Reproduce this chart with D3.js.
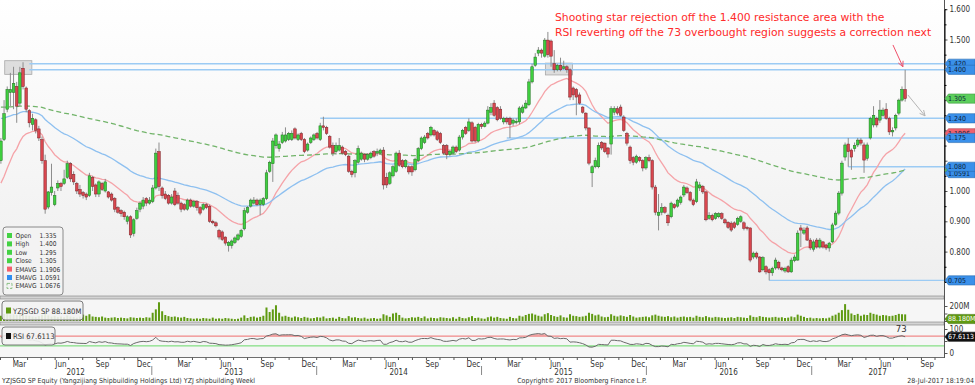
<!DOCTYPE html>
<html>
<head>
<meta charset="utf-8">
<script src="https://cdn.jsdelivr.net/npm/d3@7"></script>
<style>
  body { margin: 0; background: #ffffff; }
  text { font-family: "DejaVu Sans Condensed", "Liberation Sans Narrow", "DejaVu Sans", sans-serif; }
</style>
</head>
<body>
<div id="chart"></div>
<script>
// Weekly bars, first bar dated Fri 3-Feb-2012
var firstBar = new Date(2012, 1, 3);

var opens = [
  1.10, 1.17, 1.27, 1.325, 1.325, 1.345, 1.29, 1.405, 1.34, 1.265,
  1.22, 1.235, 1.205, 1.17, 1.10, 0.947, 0.995, 0.955, 1.01, 1.025,
  1.025, 1.045, 1.09, 1.055, 1.025, 1.005, 0.995, 0.99, 0.985, 1.045,
  1.02, 0.99, 1.025, 1.0, 0.997, 0.99, 0.975, 0.945, 0.935, 0.93,
  0.90, 0.915, 0.86, 0.91, 0.94, 0.95, 0.975, 0.96, 0.965, 1.01,
  1.13, 1.01, 0.99, 0.985, 0.96, 1.0, 0.985, 0.96, 0.955, 0.94,
  0.97, 0.95, 0.965, 0.945, 0.94, 0.955, 0.95, 0.90, 0.895, 0.87,
  0.865, 0.848, 0.82, 0.82, 0.83, 0.84, 0.85, 0.875, 0.93, 0.95,
  0.96, 0.97, 0.955, 0.955, 0.975, 1.065, 1.09, 1.15, 1.14, 1.16,
  1.165, 1.17, 1.17, 1.205, 1.17, 1.19, 1.17, 1.135, 1.16, 1.17,
  1.19, 1.17, 1.215, 1.21, 1.18, 1.15, 1.13, 1.135, 1.145, 1.13,
  1.115, 1.065, 1.06, 1.095, 1.105, 1.12, 1.105, 1.11, 1.13, 1.125,
  1.125, 1.135, 1.045, 1.025, 1.05, 1.065, 1.125, 1.10, 1.08, 1.08,
  1.08, 1.07, 1.10, 1.14, 1.16, 1.19, 1.185, 1.20, 1.195, 1.19,
  1.15, 1.15, 1.12, 1.125, 1.145, 1.135, 1.178, 1.21, 1.20, 1.225,
  1.21, 1.165, 1.22, 1.213, 1.224, 1.26, 1.29, 1.275, 1.27, 1.228,
  1.24, 1.24, 1.224, 1.226, 1.228, 1.26, 1.274, 1.285, 1.36, 1.415,
  1.455, 1.465, 1.445, 1.498, 1.495, 1.42, 1.40, 1.415, 1.405, 1.41,
  1.40, 1.34, 1.335, 1.317, 1.277, 1.257, 1.208, 1.06, 1.08, 1.08,
  1.16, 1.158, 1.142, 1.155, 1.26, 1.272, 1.277, 1.244, 1.19, 1.145,
  1.11, 1.095, 1.11, 1.10, 1.076, 1.11, 1.10, 1.013, 0.92, 0.93,
  0.945, 0.92, 0.915, 0.955, 0.95, 0.962, 0.987, 1.01, 0.995, 0.97,
  0.965, 1.01, 1.015, 0.997, 0.91, 0.92, 0.91, 0.915, 0.925, 0.905,
  0.897, 0.894, 0.895, 0.89, 0.90, 0.895, 0.88, 0.878, 0.782, 0.795,
  0.782, 0.74, 0.75, 0.74, 0.73, 0.746, 0.765, 0.746, 0.736, 0.75,
  0.733, 0.77, 0.772, 0.878, 0.861, 0.878, 0.838, 0.808, 0.838, 0.815,
  0.832, 0.822, 0.812, 0.832, 0.89, 0.927, 0.993, 1.112, 1.155, 1.135,
  1.14, 1.152, 1.168, 1.152, 1.108, 1.175, 1.218, 1.24, 1.234, 1.25,
  1.27, 1.24, 1.195, 1.208, 1.257, 1.30, 1.335
];

var highs = [
  1.175, 1.30, 1.345, 1.39, 1.41, 1.36, 1.41, 1.425, 1.345, 1.27,
  1.255, 1.24, 1.215, 1.18, 1.12, 1.00, 1.09, 1.0, 1.035, 1.03,
  1.07, 1.10, 1.095, 1.065, 1.03, 1.02, 1.00, 0.995, 1.06, 1.05,
  1.025, 1.035, 1.03, 1.04, 1.0, 0.995, 0.98, 0.95, 0.94, 0.935,
  0.92, 0.92, 0.91, 0.945, 0.965, 0.98, 0.98, 0.98, 1.02, 1.14,
  1.16, 1.015, 1.0, 0.99, 0.99, 1.01, 0.995, 0.965, 0.96, 0.975,
  0.975, 0.97, 0.97, 0.95, 0.96, 0.96, 0.955, 0.905, 0.90, 0.875,
  0.87, 0.85, 0.835, 0.84, 0.85, 0.86, 0.875, 0.945, 0.95, 0.975,
  0.98, 0.975, 0.975, 0.98, 1.07, 1.10, 1.175, 1.19, 1.165, 1.195,
  1.21, 1.195, 1.20, 1.21, 1.19, 1.195, 1.175, 1.16, 1.18, 1.19,
  1.195, 1.225, 1.245, 1.215, 1.185, 1.16, 1.16, 1.175, 1.15, 1.135,
  1.12, 1.07, 1.105, 1.15, 1.13, 1.125, 1.125, 1.13, 1.135, 1.14,
  1.14, 1.145, 1.06, 1.065, 1.085, 1.13, 1.135, 1.105, 1.105, 1.085,
  1.085, 1.11, 1.145, 1.18, 1.185, 1.195, 1.215, 1.205, 1.20, 1.195,
  1.155, 1.155, 1.135, 1.15, 1.15, 1.185, 1.205, 1.215, 1.24, 1.23,
  1.215, 1.225, 1.225, 1.23, 1.28, 1.29, 1.30, 1.28, 1.28, 1.245,
  1.245, 1.245, 1.24, 1.24, 1.28, 1.285, 1.30, 1.37, 1.42, 1.455,
  1.475, 1.47, 1.505, 1.525, 1.50, 1.465, 1.42, 1.44, 1.43, 1.415,
  1.405, 1.345, 1.34, 1.325, 1.28, 1.26, 1.21, 1.085, 1.11, 1.16,
  1.165, 1.16, 1.145, 1.28, 1.28, 1.28, 1.285, 1.25, 1.195, 1.15,
  1.115, 1.12, 1.115, 1.105, 1.115, 1.12, 1.105, 1.02, 0.99, 0.96,
  0.95, 0.925, 0.965, 0.96, 0.975, 0.985, 1.02, 1.015, 1.0, 0.975,
  1.04, 1.03, 1.02, 1.0, 0.93, 0.925, 0.93, 0.93, 0.93, 0.91,
  0.90, 0.90, 0.90, 0.915, 0.92, 0.90, 0.885, 0.88, 0.80, 0.80,
  0.785, 0.785, 0.755, 0.745, 0.75, 0.78, 0.77, 0.75, 0.75, 0.755,
  0.78, 0.79, 0.87, 0.888, 0.88, 0.885, 0.845, 0.84, 0.845, 0.845,
  0.835, 0.826, 0.832, 0.895, 0.935, 1.0, 1.10, 1.16, 1.175, 1.14,
  1.16, 1.175, 1.175, 1.16, 1.16, 1.245, 1.28, 1.245, 1.30, 1.275,
  1.29, 1.245, 1.21, 1.255, 1.305, 1.345, 1.40
];

var lows = [
  1.09, 1.165, 1.26, 1.28, 1.27, 1.225, 1.28, 1.335, 1.26, 1.21,
  1.20, 1.19, 1.165, 1.09, 0.925, 0.94, 0.985, 0.95, 1.0, 1.0,
  1.02, 1.04, 1.03, 1.02, 0.99, 0.98, 0.975, 0.97, 0.98, 1.0,
  0.98, 0.98, 1.0, 0.995, 0.975, 0.965, 0.93, 0.925, 0.915, 0.905,
  0.89, 0.845, 0.85, 0.905, 0.93, 0.94, 0.95, 0.955, 0.96, 1.005,
  1.0, 0.975, 0.97, 0.955, 0.955, 0.95, 0.955, 0.93, 0.935, 0.935,
  0.945, 0.945, 0.935, 0.92, 0.935, 0.94, 0.895, 0.89, 0.88, 0.84,
  0.835, 0.82, 0.80, 0.81, 0.825, 0.835, 0.845, 0.87, 0.925, 0.945,
  0.955, 0.95, 0.92, 0.95, 0.97, 1.06, 1.03, 1.14, 1.13, 1.155,
  1.16, 1.165, 1.165, 1.17, 1.165, 1.165, 1.125, 1.13, 1.155, 1.165,
  1.17, 1.165, 1.20, 1.185, 1.14, 1.115, 1.12, 1.13, 1.12, 1.115,
  1.06, 1.045, 1.045, 1.09, 1.10, 1.095, 1.10, 1.105, 1.11, 1.115,
  1.12, 1.005, 1.01, 1.02, 1.045, 1.06, 1.08, 1.075, 1.075, 1.055,
  1.05, 1.065, 1.095, 1.135, 1.155, 1.17, 1.18, 1.18, 1.165, 1.155,
  1.12, 1.105, 1.115, 1.12, 1.125, 1.13, 1.17, 1.185, 1.195, 1.16,
  1.16, 1.16, 1.205, 1.21, 1.22, 1.25, 1.245, 1.23, 1.235, 1.22,
  1.22, 1.175, 1.215, 1.22, 1.22, 1.255, 1.27, 1.28, 1.355, 1.41,
  1.445, 1.44, 1.44, 1.44, 1.41, 1.39, 1.395, 1.395, 1.40, 1.39,
  1.30, 1.30, 1.25, 1.285, 1.255, 1.20, 1.085, 1.013, 1.075, 1.075,
  1.135, 1.125, 1.11, 1.12, 1.25, 1.25, 1.245, 1.195, 1.15, 1.09,
  1.085, 1.09, 1.095, 1.065, 1.07, 1.095, 1.005, 0.92, 0.87, 0.92,
  0.925, 0.885, 0.91, 0.94, 0.945, 0.955, 0.98, 0.99, 0.965, 0.95,
  0.96, 1.0, 0.99, 0.90, 0.905, 0.90, 0.905, 0.91, 0.905, 0.89,
  0.875, 0.865, 0.875, 0.885, 0.895, 0.87, 0.87, 0.765, 0.775, 0.775,
  0.73, 0.735, 0.725, 0.705, 0.72, 0.74, 0.74, 0.735, 0.73, 0.73,
  0.73, 0.765, 0.77, 0.815, 0.855, 0.835, 0.805, 0.80, 0.81, 0.81,
  0.81, 0.805, 0.80, 0.828, 0.885, 0.92, 0.985, 1.10, 1.08, 1.07,
  1.13, 1.145, 1.15, 1.06, 1.10, 1.17, 1.21, 1.21, 1.225, 1.245,
  1.235, 1.185, 1.18, 1.20, 1.25, 1.295, 1.295
];

var closes = [
  1.165, 1.255, 1.335, 1.335, 1.355, 1.28, 1.39, 1.345, 1.27, 1.225,
  1.24, 1.20, 1.175, 1.10, 0.94, 0.997, 1.013, 0.985, 1.025, 1.015,
  1.04, 1.09, 1.04, 1.03, 1.0, 0.99, 0.985, 0.98, 1.05, 1.015,
  0.99, 1.03, 1.005, 1.03, 0.98, 0.97, 0.94, 0.93, 0.925, 0.915,
  0.915, 0.855, 0.905, 0.935, 0.96, 0.97, 0.96, 0.97, 1.01, 1.125,
  1.015, 0.985, 0.975, 0.96, 0.98, 0.955, 0.96, 0.94, 0.94, 0.97,
  0.95, 0.965, 0.945, 0.927, 0.955, 0.945, 0.90, 0.895, 0.885, 0.848,
  0.84, 0.828, 0.83, 0.835, 0.845, 0.855, 0.87, 0.935, 0.945, 0.97,
  0.97, 0.955, 0.97, 0.975, 1.06, 1.095, 1.165, 1.185, 1.155, 1.185,
  1.185, 1.19, 1.19, 1.175, 1.185, 1.17, 1.13, 1.155, 1.175, 1.185,
  1.175, 1.215, 1.21, 1.19, 1.145, 1.125, 1.15, 1.15, 1.125, 1.12,
  1.065, 1.055, 1.10, 1.14, 1.125, 1.105, 1.12, 1.125, 1.115, 1.13,
  1.135, 1.02, 1.02, 1.06, 1.08, 1.125, 1.085, 1.08, 1.10, 1.063,
  1.063, 1.105, 1.14, 1.175, 1.178, 1.175, 1.21, 1.185, 1.17, 1.16,
  1.125, 1.12, 1.13, 1.145, 1.13, 1.178, 1.20, 1.19, 1.228, 1.165,
  1.165, 1.22, 1.213, 1.224, 1.267, 1.275, 1.25, 1.235, 1.24, 1.24,
  1.228, 1.22, 1.234, 1.23, 1.274, 1.277, 1.29, 1.36, 1.41, 1.442,
  1.465, 1.455, 1.498, 1.45, 1.445, 1.40, 1.415, 1.40, 1.41, 1.40,
  1.31, 1.317, 1.31, 1.29, 1.26, 1.208, 1.092, 1.08, 1.10, 1.15,
  1.142, 1.13, 1.122, 1.272, 1.272, 1.257, 1.25, 1.20, 1.158, 1.10,
  1.095, 1.115, 1.10, 1.076, 1.11, 1.10, 1.013, 0.93, 0.93, 0.945,
  0.93, 0.895, 0.96, 0.945, 0.97, 0.98, 1.013, 0.995, 0.97, 0.955,
  1.03, 1.02, 0.997, 0.905, 0.92, 0.905, 0.925, 0.925, 0.91, 0.895,
  0.88, 0.871, 0.88, 0.91, 0.915, 0.877, 0.876, 0.772, 0.795, 0.782,
  0.733, 0.78, 0.733, 0.73, 0.745, 0.772, 0.746, 0.74, 0.745, 0.733,
  0.772, 0.782, 0.861, 0.871, 0.871, 0.838, 0.812, 0.832, 0.815, 0.838,
  0.815, 0.812, 0.828, 0.888, 0.927, 0.993, 1.092, 1.152, 1.13, 1.112,
  1.15, 1.168, 1.158, 1.102, 1.152, 1.24, 1.25, 1.218, 1.267, 1.267,
  1.24, 1.195, 1.20, 1.25, 1.30, 1.335, 1.305
];

// Weekly volume, millions of shares
var volumes = [
  70, 95, 110, 85, 90, 80, 100, 95, 75, 70,
  60, 55, 65, 80, 110, 75, 60, 70, 55, 60,
  50, 75, 60, 55, 45, 60, 85, 70, 90, 60,
  55, 50, 60, 45, 40, 45, 50, 40, 45, 40,
  35, 50, 45, 40, 45, 40, 50, 45, 110, 155,
  250, 130, 80, 65, 55, 60, 50, 45, 55, 40,
  35, 30, 35, 30, 40, 35, 30, 45, 30, 35,
  30, 40, 35, 30, 25, 30, 45, 75, 40, 55,
  60, 45, 55, 70, 180, 120, 155, 210, 110, 60,
  70, 55, 45, 60, 50, 40, 55, 45, 35, 40,
  50, 45, 60, 35, 40, 45, 30, 55, 40, 35,
  65, 45, 50, 40, 35, 45, 30, 35, 40, 30,
  35, 90, 75, 55, 100, 110, 80, 45, 35, 40,
  50, 45, 55, 40, 60, 35, 45, 40, 35, 50,
  45, 40, 35, 50, 30, 55, 40, 35, 50, 65,
  40, 45, 35, 30, 50, 60, 45, 55, 40, 35,
  30, 55, 40, 35, 70, 60, 80, 95, 100, 85,
  70, 60, 90, 105, 80, 65, 55, 75, 50, 45,
  90, 70, 65, 55, 60, 70, 110, 95, 75, 85,
  60, 50, 55, 90, 70, 60, 75, 65, 55, 80,
  60, 45, 50, 55, 60, 50, 75, 85, 70, 60,
  55, 65, 50, 60, 45, 55, 60, 50, 55, 45,
  70, 55, 50, 65, 50, 45, 55, 50, 45, 40,
  45, 50, 40, 55, 50, 45, 40, 75, 55, 50,
  65, 55, 50, 45, 50, 55, 45, 50, 40, 45,
  60, 50, 85, 70, 55, 40, 45, 35, 40, 35,
  40, 35, 45, 70, 85, 110, 145, 225, 150, 100,
  80, 95, 70, 85, 80, 110, 95, 85, 70, 80,
  75, 65, 70, 80, 95, 90, 88.18
];

// Moving averages: red 20w, blue 50w, green dashed 200w, seeded from the left edge of the picture
var emaPeriods = [20, 50, 200];
var emaSeeds = [1.026, 1.24, 1.277];
var emaColors = ["#f5a3a8", "#8ec0f0", "#72b46a"];
var rsiSeed = [0.016, 0.009];

// Horizontal support / resistance lines (level, index of bar where it starts)
var levels = [1.420, 1.400, 1.240, 1.175, 1.080, 0.705];
var levelStart = [9, 9, 101, 160, 268, 243];

// Shaded boxes around the two tops (first bar, last bar, low, high)
var boxes = [[2, 9, 1.385, 1.43], [173, 180, 1.383, 1.422]];

var legendNames = ["Open", "High", "Low", "Close", "EMAVG", "EMAVG", "EMAVG"];
var legendValues = ["1.335", "1.400", "1.295", "1.305", "1.1906", "1.0591", "1.0676"];
var legendColors = ["#44d244", "#44d244", "#44d244", "#44d244", "#f2606c", "#2f8df0", "dash"];

// Right axis tags: value, fill
var tagValues = [1.1906, 1.175, 1.0676, 1.0591, 1.080, 1.420, 1.400, 1.305, 1.240, 0.705];
var tagLabels = ["1.1906", "1.175", "1.0676", "1.0591", "1.080", "1.420", "1.400", "1.305", "1.240", "0.705"];
var tagFills = ["#f0606e", "#3a90ea", "#5ccf5c", "#3a90ea", "#3a90ea", "#3a90ea", "#3a90ea", "#5ccf5c", "#3a90ea", "#3a90ea"];

var noteLines = [
  "Shooting star rejection off the 1.400 resistance area with the",
  "RSI reverting off the 73 overbought region suggests a correction next"
];
var monthNames = ["Mar", "Jun", "Sep", "Dec"];

// Chart area
var svgWidth = 975;
var svgHeight = 385;
var plotRight = 944;

var svg = d3.select("#chart")
  .append("svg")
  .attr("width", svgWidth)
  .attr("height", svgHeight);

var defs = svg.append("defs");
var grad = defs.append("linearGradient")
  .attr("id", "bg")
  .attr("x1", 0).attr("y1", 0).attr("x2", 0).attr("y2", 1);
grad.append("stop").attr("offset", "0%").attr("stop-color", "#ffffff");
grad.append("stop").attr("offset", "100%").attr("stop-color", "#eeeeee");

defs.append("clipPath").attr("id", "plotClip")
  .append("rect").attr("x", 0).attr("y", 0).attr("width", plotRight).attr("height", 297);

// Step 1: scales
var dates = closes.map(function(d, i) { return d3.timeDay.offset(firstBar, 7 * i); });

var xScale = d3.scaleTime()
  .domain([new Date(2012, 1, 1), new Date(2017, 9, 22)])
  .range([0, plotRight]);

var yPrice = d3.scaleLinear().domain([0.7, 1.6]).range([281.9, 9.2]);
var yVol = d3.scaleLinear().domain([0, 200]).range([321, 306]);
var yRsi = d3.scaleLinear().domain([0, 100]).range([353, 329]);

// Step 2: panel backgrounds
svg.append("rect").attr("x", 0).attr("y", 0).attr("width", plotRight).attr("height", 297).attr("fill", "url(#bg)");
svg.append("rect").attr("x", 0).attr("y", 299).attr("width", plotRight).attr("height", 23).attr("fill", "#f6f6f6");
svg.append("rect").attr("x", 0).attr("y", 325).attr("width", plotRight).attr("height", 32).attr("fill", "#f6f6f6");

[297.5, 323.5].forEach(function(y) {
  svg.append("rect").attr("x", 0).attr("y", y - 1.5).attr("width", plotRight).attr("height", 3)
    .attr("fill", "#d4d4d4").attr("stroke", "#7d7d7d").attr("stroke-width", 0.6);
});
svg.append("line").attr("x1", 0).attr("x2", plotRight).attr("y1", 357.5).attr("y2", 357.5)
  .attr("stroke", "#6e6e6e").attr("stroke-width", 1);

var main = svg.append("g").attr("clip-path", "url(#plotClip)");

// Step 3: shaded boxes and level lines
main.selectAll(".box")
  .data(boxes)
  .enter()
  .append("rect")
  .attr("x", function(d) { return xScale(dates[d[0]]) - 2.5; })
  .attr("width", function(d) { return xScale(dates[d[1]]) - xScale(dates[d[0]]) + 5; })
  .attr("y", function(d) { return yPrice(d[3]); })
  .attr("height", function(d) { return yPrice(d[2]) - yPrice(d[3]); })
  .attr("fill", "#c9c9c9")
  .attr("fill-opacity", 0.6)
  .attr("stroke", "#a8a8a8")
  .attr("stroke-width", 0.8);

main.selectAll(".level")
  .data(levels)
  .enter()
  .append("line")
  .attr("x1", function(d, i) { return xScale(dates[levelStart[i]]); })
  .attr("x2", plotRight)
  .attr("y1", function(d) { return yPrice(d); })
  .attr("y2", function(d) { return yPrice(d); })
  .attr("stroke", "#9ccbf4")
  .attr("stroke-width", 1.4);

// Step 4: moving averages
emaPeriods.forEach(function(period, k) {
  var alpha = 2 / (period + 1);
  var e = emaSeeds[k];
  var series = closes.map(function(c, i) {
    if (i > 0) { e = e + alpha * (c - e); }
    return e;
  });
  main.append("path")
    .datum(series)
    .attr("fill", "none")
    .attr("stroke", emaColors[k])
    .attr("stroke-width", 1.3)
    .attr("stroke-dasharray", k === 2 ? "5,3" : null)
    .attr("d", d3.line()
      .x(function(d, i) { return xScale(dates[i]); })
      .y(function(d) { return yPrice(d); }));
});

// Step 5: candles
var candles = main.selectAll(".candle")
  .data(closes)
  .enter()
  .append("g");

candles.append("line")
  .attr("x1", function(d, i) { return xScale(dates[i]); })
  .attr("x2", function(d, i) { return xScale(dates[i]); })
  .attr("y1", function(d, i) { return yPrice(highs[i]); })
  .attr("y2", function(d, i) { return yPrice(lows[i]); })
  .attr("stroke", "#8c8c8c")
  .attr("stroke-width", 1);

candles.append("rect")
  .attr("x", function(d, i) { return xScale(dates[i]) - 1.3; })
  .attr("width", 2.6)
  .attr("y", function(d, i) { return yPrice(Math.max(opens[i], d)); })
  .attr("height", function(d, i) { return Math.max(1, Math.abs(yPrice(opens[i]) - yPrice(d))); })
  .attr("fill", function(d, i) { return d >= opens[i] ? "#3fcf3f" : "#d9474f"; })
  .attr("stroke", function(d, i) { return d >= opens[i] ? "#1e6e1e" : "#7a2025"; })
  .attr("stroke-width", 0.5);

// Step 6: annotation arrows and text
function arrow(x1, y1, x2, y2, color) {
  var a = Math.atan2(y2 - y1, x2 - x1);
  var h = 6;
  svg.append("path")
    .attr("d", "M" + x1 + "," + y1 + "L" + x2 + "," + y2 +
      "M" + (x2 - h * Math.cos(a - 0.45)) + "," + (y2 - h * Math.sin(a - 0.45)) +
      "L" + x2 + "," + y2 +
      "L" + (x2 - h * Math.cos(a + 0.45)) + "," + (y2 - h * Math.sin(a + 0.45)))
    .attr("fill", "none")
    .attr("stroke", color)
    .attr("stroke-width", 1);
}
arrow(xScale(d3.timeDay.offset(firstBar, 7 * 282.2)), yPrice(1.482),
      xScale(d3.timeDay.offset(firstBar, 7 * 285.4)), yPrice(1.41), "#f0506a");
arrow(xScale(d3.timeDay.offset(firstBar, 7 * 286.9)), yPrice(1.317),
      xScale(d3.timeDay.offset(firstBar, 7 * 292.3)), yPrice(1.248), "#b4b4b4");

svg.selectAll(".note")
  .data(noteLines)
  .enter()
  .append("text")
  .attr("x", 555)
  .attr("y", function(d, i) { return 20.5 + i * 15.5; })
  .attr("fill", "#ff2a2a")
  .style("font-family", "'DejaVu Sans', sans-serif")
  .style("font-size", "10.8px")
  .text(function(d) { return d; });

// Step 7: volume panel
svg.append("g")
  .selectAll("rect")
  .data(volumes)
  .enter()
  .append("rect")
  .attr("x", function(d, i) { return xScale(dates[i]) - 1; })
  .attr("width", 2)
  .attr("y", function(d) { return yVol(d); })
  .attr("height", function(d) { return yVol(0) - yVol(d); })
  .attr("fill", "#5f9a12");

// Step 8: RSI panel
var rsi = [];
var avgGain = rsiSeed[0];
var avgLoss = rsiSeed[1];
closes.forEach(function(c, i) {
  if (i > 0) {
    var ch = c - closes[i - 1];
    avgGain = (avgGain * 13 + Math.max(ch, 0)) / 14;
    avgLoss = (avgLoss * 13 + Math.max(-ch, 0)) / 14;
  }
  rsi.push(100 - 100 / (1 + avgGain / avgLoss));
});

defs.append("clipPath").attr("id", "rsiHigh")
  .append("rect").attr("x", 0).attr("y", 325).attr("width", plotRight).attr("height", yRsi(70) - 325);
defs.append("clipPath").attr("id", "rsiLow")
  .append("rect").attr("x", 0).attr("y", yRsi(30)).attr("width", plotRight).attr("height", 357 - yRsi(30));

var rsiX = function(d, i) { return xScale(dates[i]); };
svg.append("path").datum(rsi).attr("clip-path", "url(#rsiHigh)")
  .attr("fill", "#f08080").attr("fill-opacity", 0.55)
  .attr("d", d3.area().x(rsiX).y0(yRsi(70)).y1(function(d) { return yRsi(d); }));
svg.append("path").datum(rsi).attr("clip-path", "url(#rsiLow)")
  .attr("fill", "#7fd67f").attr("fill-opacity", 0.6)
  .attr("d", d3.area().x(rsiX).y0(yRsi(30)).y1(function(d) { return yRsi(d); }));

svg.append("line").attr("x1", 0).attr("x2", plotRight).attr("y1", yRsi(70)).attr("y2", yRsi(70))
  .attr("stroke", "#f08a8a").attr("stroke-width", 1.2);
svg.append("line").attr("x1", 0).attr("x2", plotRight).attr("y1", yRsi(30)).attr("y2", yRsi(30))
  .attr("stroke", "#86df86").attr("stroke-width", 1.2);

svg.append("path").datum(rsi)
  .attr("fill", "none")
  .attr("stroke", "#6b6b6b")
  .attr("stroke-width", 1)
  .attr("d", d3.line().x(rsiX).y(function(d) { return yRsi(d); }));

svg.append("text")
  .attr("x", xScale(dates[dates.length - 1]) - 4)
  .attr("y", yRsi(73) - 3)
  .attr("text-anchor", "middle")
  .attr("fill", "#333")
  .style("font-size", "9.5px")
  .text("73");

// Step 9: right axes
svg.append("line").attr("x1", plotRight + 0.5).attr("x2", plotRight + 0.5).attr("y1", 0).attr("y2", 358)
  .attr("stroke", "#555").attr("stroke-width", 1);

// price labels that sit under a value tag are hidden, as on the terminal
var shownPriceTicks = d3.range(0.7, 1.65, 0.1).filter(function(t) {
  return tagValues.every(function(v) { return Math.abs(yPrice(v) - yPrice(t)) > 8; });
});
var priceAxis = svg.append("g")
  .attr("transform", "translate(" + (plotRight + 0.5) + ",0)")
  .call(d3.axisRight(yPrice).tickValues(d3.range(0.7, 1.65, 0.1)).tickFormat(function(t) {
    return shownPriceTicks.indexOf(t) >= 0 ? d3.format(".3f")(t) : "";
  }).tickSize(3).tickPadding(2));
svg.append("g")
  .attr("transform", "translate(" + (plotRight + 0.5) + ",0)")
  .call(d3.axisRight(yPrice).tickValues(d3.range(0.75, 1.6, 0.1)).tickFormat("").tickSize(2));

var volAxis = svg.append("g")
  .attr("transform", "translate(" + (plotRight + 0.5) + ",0)")
  .call(d3.axisRight(yVol).tickValues([0, 100, 200]).tickFormat(function(d) { return d === 200 ? "200M" : ""; }).tickSize(3).tickPadding(2));

var rsiAxis = svg.append("g")
  .attr("transform", "translate(" + (plotRight + 0.5) + ",0)")
  .call(d3.axisRight(yRsi).tickValues([0, 50, 100]).tickFormat(function(d) { return d === 50 ? "" : d; }).tickSize(3).tickPadding(2));

[priceAxis, volAxis, rsiAxis].forEach(function(g) {
  g.select(".domain").remove();
  g.selectAll("line").attr("stroke", "#555");
  g.selectAll("text").attr("fill", "#333").style("font-size", "8px");
});

function tag(y, label, fill, textColor) {
  var g = svg.append("g");
  g.append("path")
    .attr("d", "M" + (plotRight + 1) + "," + y + "L" + (plotRight + 4.5) + "," + (y - 4.6) +
      "L975," + (y - 4.6) + "L975," + (y + 4.6) + "L" + (plotRight + 4.5) + "," + (y + 4.6) + "Z")
    .attr("fill", fill)
    .attr("stroke", d3.color(fill).darker(0.8))
    .attr("stroke-width", 0.6);
  g.append("text")
    .attr("x", plotRight + 4)
    .attr("y", y)
    .attr("dy", "0.35em")
    .attr("fill", textColor)
    .style("font-size", "7px")
    .text(label);
}

tagValues.forEach(function(v, i) {
  tag(yPrice(v), tagLabels[i], tagFills[i], "#0b1e3a");
});
tag(yVol(0) - 2, "88.180M", "#5f9a12", "#ffffff");
tag(yRsi(67.6113), "67.6113", "#111111", "#ffffff");

// Step 10: legends
var legend = svg.append("g").attr("transform", "translate(3,227)");
legend.append("rect")
  .attr("width", 60).attr("height", 68).attr("rx", 3)
  .attr("fill", "#f3f3f3").attr("fill-opacity", 0.92)
  .attr("stroke", "#8a8a8a").attr("stroke-width", 1);

var rows = legend.selectAll(".row")
  .data(legendNames)
  .enter()
  .append("g")
  .attr("transform", function(d, i) { return "translate(4," + (6 + i * 8.4) + ")"; });

rows.append("rect")
  .attr("width", 5).attr("height", 5)
  .attr("fill", function(d, i) { return legendColors[i] === "dash" ? "none" : legendColors[i]; })
  .attr("stroke", function(d, i) { return legendColors[i] === "dash" ? "#72b46a" : "none"; })
  .attr("stroke-dasharray", function(d, i) { return legendColors[i] === "dash" ? "3,1.5" : null; })
  .attr("stroke-width", 0.8);
rows.append("text")
  .attr("x", 8.5).attr("y", 5)
  .attr("fill", "#333")
  .style("font-size", "6.6px")
  .text(function(d) { return d; });
rows.append("text")
  .attr("x", 32.5).attr("y", 5)
  .attr("fill", "#333")
  .style("font-size", "6.6px")
  .text(function(d, i) { return legendValues[i]; });

function smallLegend(x, y, w, h, fill, label) {
  var g = svg.append("g").attr("transform", "translate(" + x + "," + y + ")");
  g.append("rect").attr("width", w).attr("height", h).attr("rx", 3)
    .attr("fill", "#f3f3f3").attr("fill-opacity", 0.9)
    .attr("stroke", "#7a7a7a").attr("stroke-width", 1);
  g.append("rect").attr("x", 4).attr("y", h / 2 - 3).attr("width", 5).attr("height", 6).attr("fill", fill);
  g.append("text").attr("x", 11).attr("y", h / 2 + 3).attr("fill", "#333").style("font-size", "7.6px").text(label);
}
smallLegend(2, 301, 81, 19, "#5f9a12", "YZJSGD SP  88.180M");
smallLegend(2, 327, 53, 18, "#111111", "RSI 67.6113");

// Step 11: time axis
var months = d3.timeMonth.range(new Date(2012, 1, 1), new Date(2017, 9, 22));
svg.append("g")
  .selectAll("line")
  .data(months)
  .enter()
  .append("line")
  .attr("x1", function(d) { return xScale(d) + 0.5; })
  .attr("x2", function(d) { return xScale(d) + 0.5; })
  .attr("y1", 357.5)
  .attr("y2", 360)
  .attr("stroke", "#555");

var quarterMonths = months.filter(function(d) { return d.getMonth() % 3 === 2; });
svg.append("g")
  .selectAll("text")
  .data(quarterMonths)
  .enter()
  .append("text")
  .attr("x", function(d) { return xScale(d3.timeDay.offset(d, 14)); })
  .attr("y", 366.5)
  .attr("text-anchor", "middle")
  .attr("fill", "#333")
  .style("font-size", "8px")
  .text(function(d) { return monthNames[(d.getMonth() - 2) / 3]; });

var years = d3.range(2012, 2018);
svg.append("g")
  .selectAll("text")
  .data(years)
  .enter()
  .append("text")
  .attr("x", function(d) {
    var a = Math.max(0, xScale(new Date(d, 0, 1)));
    var b = Math.min(plotRight, xScale(new Date(d + 1, 0, 1)));
    return (a + b) / 2;
  })
  .attr("y", 374.5)
  .attr("text-anchor", "middle")
  .attr("fill", "#333")
  .style("font-size", "8px")
  .text(function(d) { return d; });

svg.append("g")
  .selectAll("line")
  .data(years.slice(1))
  .enter()
  .append("line")
  .attr("x1", function(d) { return xScale(new Date(d, 0, 1)) + 0.5; })
  .attr("x2", function(d) { return xScale(new Date(d, 0, 1)) + 0.5; })
  .attr("y1", 366)
  .attr("y2", 375)
  .attr("stroke", "#8a8a8a");

// Footer
svg.append("text").attr("x", 2).attr("y", 382.5).attr("fill", "#333").style("font-size", "7px")
  .text("YZJSGD SP Equity (Yangzijiang Shipbuilding Holdings Ltd) YZJ shipbuilding  Weekl");
svg.append("text").attr("x", 582).attr("y", 382.5).attr("text-anchor", "middle").attr("fill", "#333").style("font-size", "7px")
  .text("Copyright\u00a9 2017 Bloomberg Finance L.P.");
svg.append("text").attr("x", 974).attr("y", 382.5).attr("text-anchor", "end").attr("fill", "#333").style("font-size", "7px")
  .text("28-Jul-2017 18:19:04");
</script>
</body>
</html>
